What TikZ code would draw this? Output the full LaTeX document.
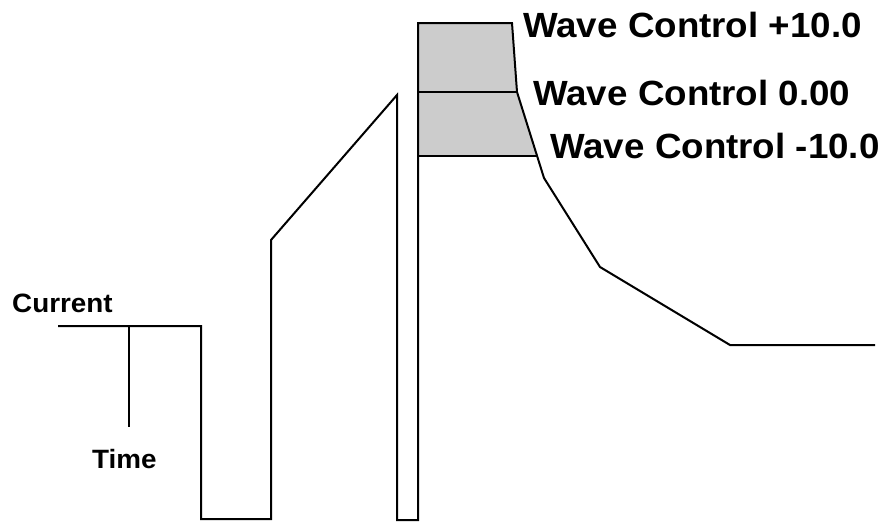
\documentclass[tikz,border=0pt]{standalone}
\usepackage{fontspec}
\setmainfont{Liberation Sans}
\newfontfamily\labfont[FakeStretch=1.05]{Liberation Sans}
\begin{document}
\begin{tikzpicture}[x=1pt,y=-1pt,
  wave/.style={line width=2pt,black},
  bandfill/.style={fill=bandgray},
  biglabel/.style={anchor=base west,inner sep=0pt,font=\labfont\bfseries\fontsize{35}{40}\selectfont},
  smalllabel/.style={anchor=base west,inner sep=0pt,font=\labfont\bfseries\fontsize{26.5}{30}\selectfont}]
\definecolor{bandgray}{RGB}{204,204,204}
\useasboundingbox (0,0) rectangle (883,522);
% coordinates
\coordinate (s0) at (58,326);
\coordinate (s1) at (201,326);
\coordinate (s2) at (201,519);
\coordinate (s3) at (271,519);
\coordinate (s4) at (271,240);
\coordinate (s5) at (397,95);
\coordinate (s6) at (397,520);
\coordinate (s7) at (418,520);
\coordinate (s8) at (418,23);
\coordinate (s9) at (512,23);
\coordinate (s10) at (517,92);
\coordinate (s11) at (544,178);
\coordinate (s12) at (600,267);
\coordinate (s13) at (730,345);
\coordinate (s14) at (875,345);
\coordinate (m1) at (418,92);
\coordinate (m2) at (418,156);
\coordinate (m3) at (537,156);
\coordinate (t0) at (129,326);
\coordinate (t1) at (129,427);
% gray band
\fill[bandfill] (s8) -- (s9) -- (s10) -- (m3) -- (m2) -- cycle;
\draw[wave] (m1) -- (s10);
\draw[wave] (m2) -- (m3);
% waveform
\draw[wave] (s0) -- (s1) -- (s2) -- (s3) -- (s4) -- (s5) -- (s6) -- (s7) -- (s8) -- (s9) -- (s10) -- (s11) -- (s12) -- (s13) -- (s14);
\draw[wave] (t0) -- (t1);
% labels
\node[biglabel] (w1) at (523,37) {Wave Control +10.0};
\node[biglabel] (w2) at (533,105) {Wave Control 0.00};
\node[biglabel] (w3) at (550,158) {Wave Control -10.0};
\node[smalllabel] (cur) at (12,312) {Current};
\node[smalllabel] (tim) at (92,468) {Time};
\end{tikzpicture}
\end{document}
